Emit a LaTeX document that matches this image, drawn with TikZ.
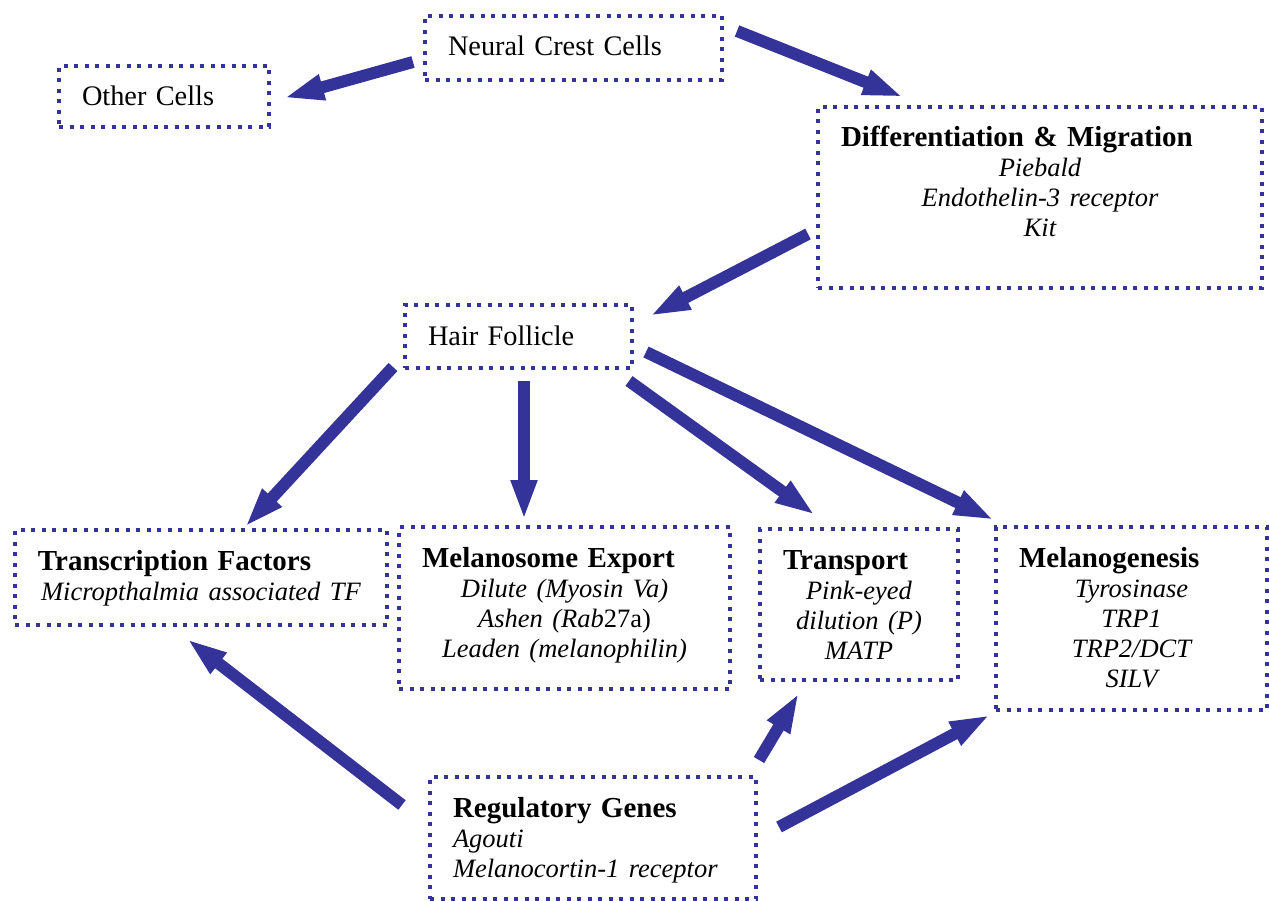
\documentclass[tikz,border=0pt]{standalone}
\usepackage{fontspec}
\setmainfont{Liberation Serif}
\usetikzlibrary{arrows.meta}
\definecolor{navy}{RGB}{51,51,153}
\newcommand{\boxlead}[1]{\makebox[\linewidth][l]{\hspace*{23pt}#1}}
\newcommand{\boxtitle}[1]{\boxlead{\fontsize{29pt}{30pt}\selectfont\bfseries #1}}
\newcommand{\gene}[1]{{\fontsize{26.5pt}{30pt}\selectfont\itshape #1}}
\tikzset{
	genebox/.style 2 args={draw=navy, line width=4pt, dash pattern=on 4pt off 6.5pt, inner sep=0pt, anchor=north west, align=center, text width=#1, text height=40pt, text depth=#2, font=\fontsize{28.3pt}{30pt}\selectfont},
	flowarrow/.style={draw=navy, line width=12pt, -{Triangle[length=40pt,width=24pt]}}
}

\begin{document}
\begin{tikzpicture}[x=1pt, y=-1pt]
			%%%%% START %%%%%
			\useasboundingbox (0, 0) rectangle (1269, 901);
			
			\node[genebox={210pt}{21pt}] (oc) at (57, 64) {\boxlead{Other Cells}};
			\node[genebox={297pt}{24pt}] (nc) at (423, 14) {\boxlead{Neural Crest Cells}};
			\node[genebox={444pt}{141pt}] (dm) at (816, 105) {\boxtitle{Differentiation \& Migration}\\ \gene{Piebald}\\ \gene{Endothelin-3 receptor}\\ \gene{Kit}};
			\node[genebox={227pt}{23pt}] (hf) at (403, 303) {\boxlead{Hair Follicle}};
			
			\node[genebox={372pt}{55pt}] (tf) at (13, 528) {\boxtitle{Transcription Factors}\\ \gene{Micropthalmia associated TF}};
			\node[genebox={331pt}{122pt}] (me) at (397, 525) {\boxtitle{Melanosome Export}\\ \gene{Dilute (Myosin Va)}\\ \gene{Ashen (Rab\upshape 27a)}\\ \gene{Leaden (melanophilin)}};
			\node[genebox={198pt}{111pt}] (tr) at (758, 527) {\boxtitle{Transport}\\ \gene{Pink-eyed}\\ \gene{dilution (P)}\\ \gene{MATP}};
			\node[genebox={271pt}{143pt}] (mg) at (994, 525) {\boxtitle{Melanogenesis}\\ \gene{Tyrosinase}\\ \gene{TRP1}\\ \gene{TRP2/DCT}\\ \gene{SILV}};
			
			\node[genebox={326pt}{82pt}] (rg) at (428, 775) {\boxtitle{Regulatory Genes}\\ \boxlead{\gene{Agouti}}\\ \boxlead{\gene{Melanocortin-1 receptor}}};
			
			\draw[flowarrow] ([shift={(-10,14)}]nc.west) -- ([shift={(13,1.5)}]oc.east);
			\draw[flowarrow] ([shift={(13,-17)}]nc.east) -- ([shift={(87,-8)}]dm.north west);
			\draw[flowarrow] ([shift={(-8,36.5)}]dm.west) -- ([shift={(16,-20.5)}]hf.east);
			
			\draw[flowarrow] ([shift={(-10,-3)}]hf.south west) -- ([shift={(44,-1)}]tf.north);
			\draw[flowarrow] ([shift={(5.5,11)}]hf.south) -- ([shift={(-40.5,-5)}]me.north);
			\draw[flowarrow] ([shift={(-5,11)}]hf.south east) -- ([shift={(-44,-12)}]tr.north);
			\draw[flowarrow] ([shift={(12,15.5)}]hf.east) -- ([shift={(0,-5)}]mg.north west);
			
			\draw[flowarrow] ([shift={(-26,-33)}]rg.west) -- ([shift={(-14,12)}]tf.south);
			\draw[flowarrow] ([shift={(1,-15)}]rg.north east) -- ([shift={(-60,11)}]tr.south);
			\draw[flowarrow] ([shift={(21,-11)}]rg.east) -- ([shift={(-4,3)}]mg.south west);
			
			%%%%% END %%%%%
\end{tikzpicture}
\end{document}
